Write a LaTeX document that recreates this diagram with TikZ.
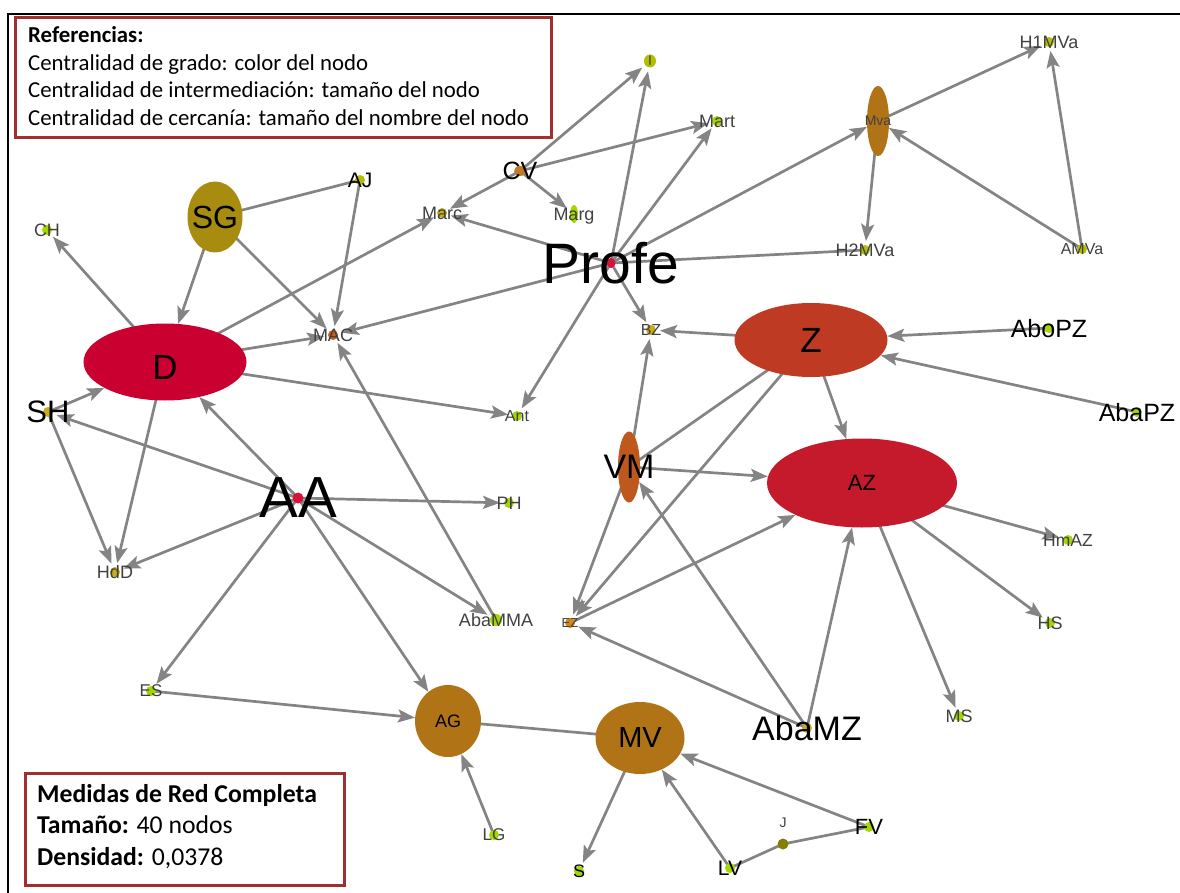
\documentclass[tikz,border=0pt]{standalone}
\usepackage{fontspec}
\setmainfont{Liberation Sans}
\newfontfamily\legendfont{Carlito}
\usetikzlibrary{shapes.geometric,arrows.meta,backgrounds}

% palette
\definecolor{edgegray}{RGB}{132,132,132}
\definecolor{boxred}{RGB}{160,48,48}
\definecolor{cD}{RGB}{202,0,48}
\definecolor{cAZ}{RGB}{196,26,44}
\definecolor{cZ}{RGB}{190,58,34}
\definecolor{cVM}{RGB}{190,88,28}
\definecolor{cSG}{RGB}{168,140,16}
\definecolor{cAG}{RGB}{176,116,22}
\definecolor{cRed}{RGB}{218,18,58}
\definecolor{cOrange}{RGB}{196,122,30}
\definecolor{cMAC}{RGB}{204,92,22}
\definecolor{cEZ}{RGB}{212,134,22}
\definecolor{cYel}{RGB}{200,172,26}
\definecolor{cOlive}{RGB}{180,190,0}
\definecolor{cGreen}{RGB}{164,214,0}
\definecolor{cJ}{RGB}{132,126,6}
\definecolor{lblgray}{RGB}{64,64,64}

\tikzset{
  link/.style={draw=edgegray, line width=2.7pt},
  arr/.style={link, -{Stealth[length=17pt,width=13pt,inset=3.5pt]}},
  blob/.style={ellipse, fill=#1, draw=none, inner sep=0pt},
  dot/.style={ellipse, fill=#1, draw=none, inner sep=0pt,
              minimum width=10pt, minimum height=10pt, outer sep=4pt},
  lbl/.style={inner sep=0pt, text depth=0pt, font=\fontsize{#1}{#1}\selectfont},
  slbl/.style={lbl=#1, text=lblgray},
  legend/.style={anchor=base west, inner sep=0pt,
                 font=\legendfont\fontsize{22.8}{27}\selectfont},
  legendb/.style={anchor=base west, inner sep=0pt,
                 font=\legendfont\fontsize{25.7}{30}\selectfont},
  legbox/.style={draw=boxred, line width=3pt, anchor=north west, inner sep=0pt},
}

\begin{document}
\begin{tikzpicture}[x=1pt,y=-1pt]
\useasboundingbox (0,0) rectangle (1180,893);

% frame
\draw[line width=2.5pt] (8,893) -- (8,14) -- (1180,14);

% large nodes
\node[blob=cD,  minimum width=163pt, minimum height=77pt] (D)  at (165,362) {};
\node[blob=cSG, minimum width=55pt,  minimum height=71pt] (SG) at (215,217) {};
\node[blob=cZ,  minimum width=153pt, minimum height=74pt] (Z)  at (811,340) {};
\node[blob=cAZ, minimum width=190pt, minimum height=89pt] (AZ) at (862,483) {};
\node[blob=cVM, minimum width=22pt,  minimum height=71pt] (VM) at (629,467) {};
\node[blob=cAG, minimum width=22pt,  minimum height=70pt] (Mva) at (878,121) {};
\node[blob=cAG, minimum width=66pt,  minimum height=72pt] (AG) at (448,721) {};
\node[blob=cAG, minimum width=89pt,  minimum height=72pt] (MV) at (640,738) {};

% small nodes
\node[dot=cRed, minimum width=9pt] (Profe) at (611,263) {};
\node[dot=cRed, minimum width=11pt, minimum height=11pt] (AA) at (298,498) {};
\node[dot=cOrange, minimum width=12pt] (CV) at (520,171) {};
\node[dot=cYel] (Marc) at (442,213) {};
\node[dot=cGreen, minimum width=8pt, minimum height=18pt] (Marg) at (574,214) {};
\node[dot=cOlive, minimum width=12pt, minimum height=13pt] (I) at (650,61) {};
\node[dot=cGreen] (Mart) at (717,121) {};
\node[dot=cOlive] (H1MVa) at (1049,42) {};
\node[dot=cOlive] (H2MVa) at (865,250) {};
\node[dot=cOlive] (AMVa) at (1082,249) {};
\node[dot=cMAC] (MAC) at (333,335) {};
\node[dot=cYel] (BZ) at (651,330) {};
\node[dot=cEZ] (EZ) at (570,623) {};
\node[dot=cOlive] (AJ) at (360,180) {};
\node[dot=cGreen] (CH) at (47,230) {};
\node[dot=cYel] (SH) at (48,412) {};
\node[dot=cYel] (HdD) at (115,572) {};
\node[dot=cGreen] (Ant) at (517,416) {};
\node[dot=cGreen] (PH) at (509,503) {};
\node[dot=cGreen, minimum width=12pt, minimum height=12pt] (AbaMMA) at (496,620) {};
\node[dot=cGreen] (ES) at (151,691) {};
\node[dot=cGreen] (LG) at (494,835) {};
\node[dot=cGreen] (S) at (579,871) {};
\node[dot=cGreen] (LV) at (730,868) {};
\node[dot=cJ, minimum width=11pt, minimum height=11pt] (J) at (783,844) {};
\node[dot=cGreen] (FV) at (869,827) {};
\node[dot=cYel] (AbaMZ) at (807,728) {};
\node[dot=cGreen] (MS) at (959,716) {};
\node[dot=cGreen] (HS) at (1050,623) {};
\node[dot=cGreen] (HmAZ) at (1068,540) {};
\node[dot=cGreen] (AboPZ) at (1049,328) {};
\node[dot=cGreen] (AbaPZ) at (1137,412) {};

% labels
\node[lbl=57] (Profe-t) at (Profe) {Profe};
\node[lbl=58] (AA-t) at (AA) {AA};
\node[lbl=35] (D-t) at (165,367) {D};
\node[lbl=32] (SG-t) at (SG) {SG};
\node[lbl=35] (Z-t) at (Z) {Z};
\node[lbl=34] (VM-t) at (VM) {VM};
\node[lbl=29] (MV-t) at (MV) {MV};
\node[lbl=34] (AbaMZ-t) at (AbaMZ) {AbaMZ};
\node[lbl=31] (SH-t) at (SH) {SH};
\node[lbl=25] (CV-t) at (CV) {CV};
\node[lbl=25] (AboPZ-t) at (AboPZ) {AboPZ};
\node[lbl=25] (AbaPZ-t) at (AbaPZ) {AbaPZ};
\node[lbl=22] (FV-t) at (FV) {FV};
\node[lbl=21] (LV-t) at (LV) {LV};
\node[lbl=21] (AJ-t) at (AJ) {AJ};
\node[lbl=22] (AZ-t) at (AZ) {AZ};
\node[lbl=18] (AG-t) at (AG) {AG};
\node[lbl=18] (S-t) at (S) {S};
\node[slbl=14] (Mva-t) at (Mva) {Mva};
\node[slbl=18] (HdD-t) at (HdD) {HdD};
\node[slbl=16] (Ant-t) at (Ant) {Ant};
\node[slbl=18] (PH-t) at (PH) {PH};
\node[slbl=18] (MAC-t) at (MAC) {MAC};
\node[slbl=18] (AbaMMA-t) at (AbaMMA) {AbaMMA};
\node[slbl=13] (EZ-t) at (EZ) {EZ};
\node[slbl=17] (ES-t) at (ES) {ES};
\node[slbl=17] (LG-t) at (LG) {LG};
\node[slbl=18] (MS-t) at (MS) {MS};
\node[slbl=18] (HS-t) at (HS) {HS};
\node[slbl=17.5] (HmAZ-t) at (HmAZ) {HmAZ};
\node[slbl=16] (BZ-t) at (BZ) {BZ};
\node[slbl=18] (H1MVa-t) at (H1MVa) {H1MVa};
\node[slbl=18] (H2MVa-t) at (H2MVa) {H2MVa};
\node[slbl=16] (AMVa-t) at (AMVa) {AMVa};
\node[slbl=18] (Mart-t) at (Mart) {Mart};
\node[slbl=14] (I-t) at (I) {I};
\node[slbl=18] (Marc-t) at (Marc) {Marc};
\node[slbl=18] (Marg-t) at (Marg) {Marg};
\node[slbl=18] (CH-t) at (CH) {CH};
\node[slbl=14] (J-t) at (783,823) {J};

% connectors, drawn beneath the nodes
\begin{scope}[on background layer]
  \draw[link] (SG.center) -- (AJ.center);
  \draw[arr] (SG.center) -- (D);
  \draw[arr] (SG.center) -- (MAC);
  \draw[arr] (AJ.center) -- (MAC);
  \draw[arr] (D.center) -- (CH);
  \draw[arr] (D.center) -- (Marc);
  \draw[arr] (D.center) -- (MAC);
  \draw[arr] (D.center) -- (Ant);
  \draw[arr] (D.center) -- (HdD);
  \draw[arr] (SH.center) -- (D);
  \draw[arr] (AA.center) -- (SH);
  \draw[arr] (SH.center) -- (HdD);
  \draw[arr] (AA.center) -- (HdD);
  \draw[arr] (AA.center) -- (D);
  \draw[arr] (AA.center) -- (PH);
  \draw[arr] (AA.center) -- (AbaMMA);
  \draw[arr] (AbaMMA.center) -- (MAC);
  \draw[arr] (AA.center) -- (ES);
  \draw[arr] (AA.center) -- (AG);
  \draw[arr] (ES.center) -- (AG);
  \draw[link] (AG.center) -- (MV.center);
  \draw[arr] (LG.center) -- (AG);
  \draw[arr] (MV.center) -- (S);
  \draw[arr] (LV.center) -- (MV);
  \draw[arr] (FV.center) -- (MV);
  \draw[link] (LV.center) -- (J.center);
  \draw[link] (J.center) -- (FV.center);
  \draw[arr] (Profe.center) -- (MAC);
  \draw[arr] (Profe.center) -- (Marc);
  \draw[arr] (CV.center) -- (Marc);
  \draw[arr] (CV.center) -- (Marg);
  \draw[arr] (CV.center) -- (I);
  \draw[arr] (CV.center) -- (Mart);
  \draw[arr] (Profe.center) -- (I);
  \draw[arr] (Profe.center) -- (Mart);
  \draw[arr] (Profe.center) -- (Mva);
  \draw[link] (Profe.center) -- (H2MVa.center);
  \draw[arr] (Mva.center) -- (H2MVa);
  \draw[arr] (Mva.center) -- (H1MVa);
  \draw[arr] (AMVa.center) -- (Mva);
  \draw[arr] (AMVa.center) -- (H1MVa);
  \draw[arr] (Profe.center) -- (BZ);
  \draw[arr] (Profe.center) -- (Ant);
  \draw[arr] (Z.center) -- (BZ);
  \draw[arr] (VM.center) -- (BZ);
  \draw[arr] (AboPZ.center) -- (Z);
  \draw[arr] (AbaPZ.center) -- (Z);
  \draw[arr] (Z.center) -- (AZ);
  \draw[link] (Z.center) -- (VM.center);
  \draw[arr] (Z.center) -- (EZ);
  \draw[arr] (VM.center) -- (AZ);
  \draw[arr] (VM.center) -- (EZ);
  \draw[arr] (EZ.center) -- (AZ);
  \draw[arr] (AbaMZ.center) -- (EZ);
  \draw[arr] (AbaMZ.center) -- (VM);
  \draw[arr] (AbaMZ.center) -- (AZ);
  \draw[arr] (AZ.center) -- (HmAZ);
  \draw[arr] (AZ.center) -- (HS);
  \draw[arr] (AZ.center) -- (MS);
\end{scope}

% legend boxes
\node[legbox, minimum width=536pt, minimum height=120pt] (refbox) at (14,16) {};
\node[legend] (ref1) at (28,43) {\textbf{Referencias:}};
\node[legend] (ref2) at (28,71) {Centralidad de grado: color del nodo};
\node[legend] (ref3) at (28,98) {Centralidad de intermediación: tamaño del nodo};
\node[legend] (ref4) at (28,126) {Centralidad de cercanía: tamaño del nombre del nodo};

\node[legbox, minimum width=319pt, minimum height=112pt] (netbox) at (24,772) {};
\node[legendb] (net1) at (37,802) {\textbf{Medidas de Red Completa}};
\node[legendb] (net2) at (37,833) {\textbf{Tamaño:} 40 nodos};
\node[legendb] (net3) at (37,865) {\textbf{Densidad:} 0,0378};
\end{tikzpicture}
\end{document}
